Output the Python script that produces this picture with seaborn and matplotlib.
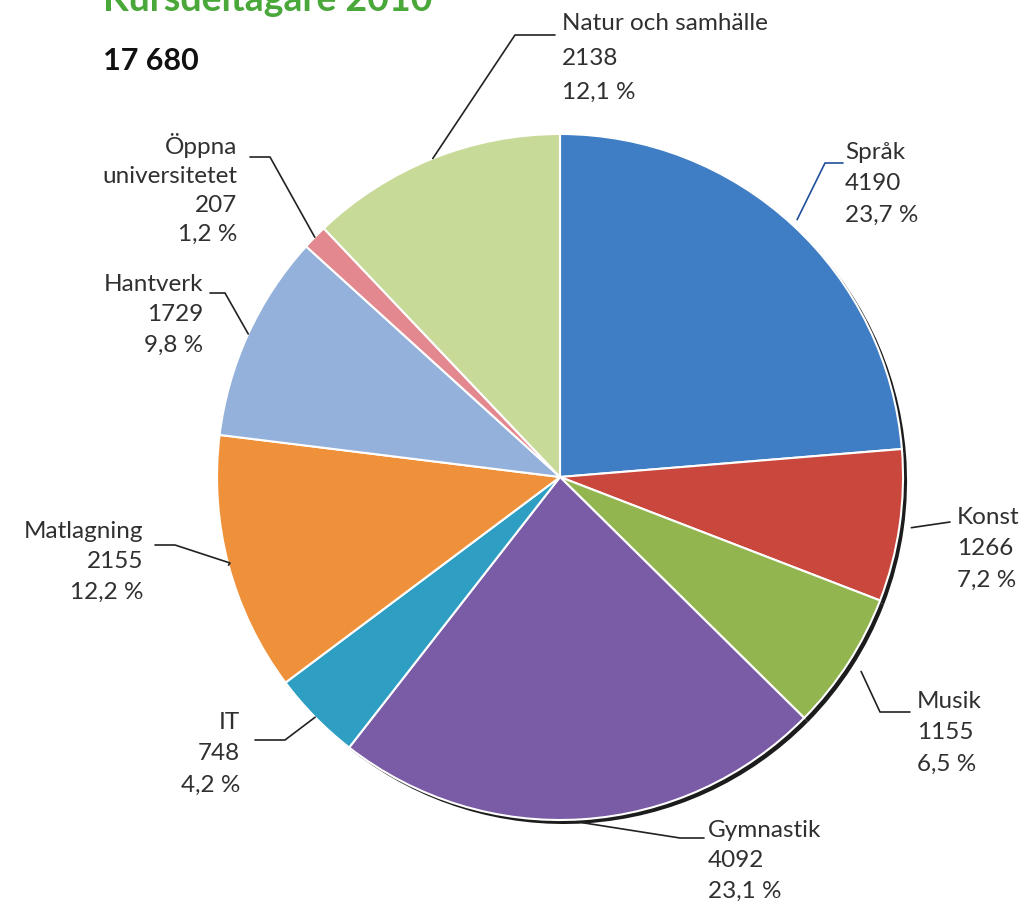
import numpy as np
import matplotlib
matplotlib.use("Agg")
import matplotlib.pyplot as plt
import seaborn as sns

# Kursdeltagare 2010, clockwise from 12 o'clock
categories = ["Språk", "Konst", "Musik", "Gymnastik", "IT", "Matlagning",
              "Hantverk", "Öppna\nuniversitetet", "Natur och samhälle"]
values = [4190, 1266, 1155, 4092, 748, 2155, 1729, 207, 2138]
colors = ["#3f7dc4", "#c9473c", "#93b54f", "#7a5ca6", "#2f9ec3",
          "#ef913a", "#93b1db", "#e3888f", "#c8da98"]
explode = [0.02, 0.035, 0.045, 0.01, 0, 0, 0, 0, 0]

title = "Kursdeltagare 2010"
total_label = "17 680"

W, H = 1030, 909
cx, cy, R = 560, 477, 343

# label layout in pixel coords (top-down):
# text x, text top y, alignment, line spacing, elbow points of the leader line
layout = {
    "Språk": (845, 142, "left", 1.6, [(825, 163), (843, 163)]),
    "Konst": (957, 507, "left", 1.6, [(950, 522)]),
    "Musik": (917, 691, "left", 1.6, [(880, 712), (910, 712)]),
    "Gymnastik": (708, 820, "left", 1.55, [(680, 838), (704, 838)]),
    "IT": (240, 712, "right", 1.6, [(285, 740), (255, 740)]),
    "Matlagning": (143, 521, "right", 1.55, [(230, 563), (175, 545), (155, 545)]),
    "Hantverk": (203, 274, "right", 1.55, [(225, 293), (210, 293)]),
    "Öppna\nuniversitetet": (237, 133, "right", 1.47, [(270, 157), (250, 157)]),
    "Natur och samhälle": (562, 13, "left", 1.8, [(515, 35), (555, 35)]),
}

sns.set_theme(style="white")
plt.rcParams["font.family"] = ["Lato", "DejaVu Sans"]

fig = plt.figure(figsize=(W / 100, H / 100), dpi=100)
ax = fig.add_axes([0, 0, 1, 1])

# dark shadow pie behind, gives the dark rims on the lower right
ax.pie(values, colors=["#1c1c1c"] * len(values), explode=explode, startangle=90,
       counterclock=False, center=(cx + 4, H - cy - 4), radius=R,
       wedgeprops=dict(linewidth=0))
ax.pie(values, colors=colors, explode=explode, startangle=90, counterclock=False,
       center=(cx, H - cy), radius=R,
       wedgeprops=dict(edgecolor="white", linewidth=1.5))
ax.set_xlim(0, W)
ax.set_ylim(0, H)
ax.set_aspect("equal")
ax.axis("off")

total = sum(values)
cum = np.cumsum([0] + values[:-1])
for name, v, c0, ex in zip(categories, values, cum, explode):
    mid = 90 - (c0 + v / 2) / total * 360
    rad = np.deg2rad(mid)
    px = cx + R * (1 + ex) * np.cos(rad)
    py = cy - R * (1 + ex) * np.sin(rad)
    tx, ty, ha, ls, elbow = layout[name]
    pts = [(px, py)] + elbow
    lc = "#1f4f9a" if name == "Språk" else "#222222"
    ax.plot([p[0] for p in pts], [H - p[1] for p in pts], color=lc, lw=1.2)
    pct = f"{v / total * 100:.1f}".replace(".", ",") + " %"
    ax.text(tx, H - ty, f"{name}\n{v}\n{pct}", ha=ha, va="top", fontsize=17.5,
            color="#303030", fontweight="normal", linespacing=ls)

ax.text(103, H - 11, title, ha="left", va="baseline", fontsize=27,
        fontweight="bold", color="#4aa83a")
ax.text(103, H - 70, total_label, ha="left", va="baseline", fontsize=22,
        fontweight="bold", color="#111111")

fig.savefig("out.png", dpi=100)
